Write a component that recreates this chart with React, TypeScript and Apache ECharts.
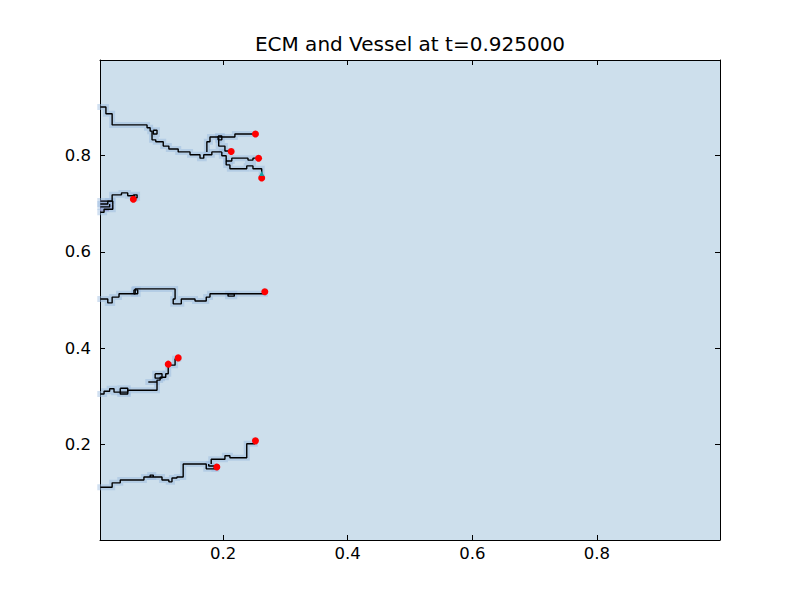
import React, { useEffect, useRef } from "react";
import * as echarts from "echarts";

const TITLE = "ECM and Vessel at t=0.925000";
const TICKS = [0.2, 0.4, 0.6, 0.8];
const AXIS_MIN = 0.0025;
const AXIS_MAX = 0.9975;

// Vessel paths (staircase polylines, data units)
const vesselTopTrunk = [
  [0.003, 0.9], [0.012, 0.9], [0.012, 0.886], [0.022, 0.886], [0.022, 0.863], [0.078, 0.863],
  [0.078, 0.857], [0.083, 0.857], [0.083, 0.85], [0.086, 0.85], [0.086, 0.832], [0.092, 0.832],
  [0.092, 0.828], [0.104, 0.828], [0.104, 0.819], [0.113, 0.819], [0.113, 0.813], [0.128, 0.813],
  [0.128, 0.807], [0.147, 0.807], [0.147, 0.801], [0.163, 0.801], [0.163, 0.794], [0.169, 0.794],
  [0.169, 0.801], [0.182, 0.801], [0.182, 0.807], [0.198, 0.807],
];
const vesselTopBox1 = [[0.088, 0.852], [0.094, 0.852], [0.094, 0.844], [0.088, 0.844], [0.088, 0.852]];
const vesselTopBranch1 = [
  [0.174, 0.807], [0.174, 0.828], [0.179, 0.828], [0.179, 0.838], [0.219, 0.838], [0.219, 0.844], [0.251, 0.844],
];
const vesselTopBox2 = [[0.192, 0.84], [0.198, 0.84], [0.198, 0.832], [0.192, 0.832], [0.192, 0.84]];
const vesselTopBranch2 = [
  [0.193, 0.836], [0.193, 0.819], [0.203, 0.819], [0.203, 0.809], [0.213, 0.809],
];
const vesselTopBranch3 = [
  [0.198, 0.807], [0.198, 0.799], [0.205, 0.799], [0.205, 0.788], [0.214, 0.788], [0.214, 0.794],
  [0.24, 0.794], [0.24, 0.79], [0.248, 0.79], [0.248, 0.794], [0.256, 0.794],
];
const vesselTopBranch4 = [
  [0.205, 0.788], [0.205, 0.78], [0.211, 0.78], [0.211, 0.772], [0.238, 0.772], [0.238, 0.778],
  [0.248, 0.778], [0.248, 0.772], [0.262, 0.772], [0.262, 0.755],
];
const vesselSmall = [
  [0.003, 0.699], [0.015, 0.699], [0.015, 0.705], [0.022, 0.705], [0.022, 0.718], [0.037, 0.718],
  [0.037, 0.722], [0.047, 0.722], [0.047, 0.716], [0.058, 0.716], [0.058, 0.71],
];
const vesselSmallBox = [[0.056, 0.718], [0.062, 0.718], [0.062, 0.712], [0.056, 0.712], [0.056, 0.718]];
const vesselSmallLoop = [
  [0.003, 0.705], [0.023, 0.705], [0.023, 0.688], [0.009, 0.688], [0.009, 0.682], [0.003, 0.682],
];
const vesselSmallInner = [[0.003, 0.693], [0.018, 0.693], [0.018, 0.699]];
const vesselMid = [
  [0.003, 0.502], [0.015, 0.502], [0.015, 0.494], [0.022, 0.494], [0.022, 0.506], [0.033, 0.506],
  [0.033, 0.513], [0.059, 0.513], [0.059, 0.523], [0.123, 0.523], [0.123, 0.502], [0.12, 0.502],
  [0.12, 0.492], [0.133, 0.492], [0.133, 0.502], [0.155, 0.502], [0.155, 0.498], [0.173, 0.498],
  [0.173, 0.506], [0.179, 0.506], [0.179, 0.513], [0.267, 0.513], [0.267, 0.517],
];
const vesselMidBox1 = [[0.057, 0.521], [0.063, 0.521], [0.063, 0.513], [0.057, 0.513], [0.057, 0.521]];
const vesselMidBox2 = [[0.208, 0.513], [0.218, 0.513], [0.218, 0.508], [0.208, 0.508], [0.208, 0.513]];
const vesselLow = [
  [0.003, 0.305], [0.009, 0.305], [0.009, 0.311], [0.018, 0.311], [0.018, 0.316], [0.025, 0.316],
  [0.025, 0.309], [0.047, 0.309], [0.047, 0.313], [0.094, 0.313], [0.094, 0.334], [0.099, 0.334],
  [0.099, 0.34], [0.108, 0.34], [0.108, 0.347], [0.112, 0.347], [0.112, 0.365], [0.123, 0.365],
  [0.123, 0.378], [0.128, 0.378],
];
const vesselLowBox1 = [[0.035, 0.317], [0.047, 0.317], [0.047, 0.305], [0.035, 0.305], [0.035, 0.317]];
const vesselLowStub = [[0.08, 0.33], [0.094, 0.33]];
const vesselLowBox2 = [[0.091, 0.347], [0.102, 0.347], [0.102, 0.338], [0.091, 0.338], [0.091, 0.347]];
const vesselBottom = [
  [0.003, 0.112], [0.022, 0.112], [0.022, 0.121], [0.035, 0.121], [0.035, 0.127], [0.073, 0.127],
  [0.073, 0.133], [0.102, 0.133], [0.102, 0.127], [0.113, 0.127], [0.113, 0.123], [0.118, 0.123],
  [0.118, 0.131], [0.126, 0.131], [0.126, 0.133], [0.136, 0.133], [0.136, 0.16], [0.173, 0.16],
  [0.173, 0.15], [0.189, 0.15], [0.189, 0.154],
];
const vesselBottomBranch = [
  [0.181, 0.16], [0.181, 0.17], [0.203, 0.17], [0.203, 0.177], [0.211, 0.177], [0.211, 0.173],
  [0.238, 0.173], [0.238, 0.202], [0.251, 0.202], [0.251, 0.208],
];
const vesselBottomBump = [[0.083, 0.133], [0.083, 0.137], [0.088, 0.137], [0.088, 0.133]];
const vesselBottomBox = [[0.177, 0.16], [0.177, 0.156], [0.186, 0.156], [0.186, 0.15]];

const vesselPaths = [
  vesselTopTrunk, vesselTopBox1, vesselTopBranch1, vesselTopBox2, vesselTopBranch2, vesselTopBranch3,
  vesselTopBranch4, vesselSmall, vesselSmallBox, vesselSmallLoop, vesselSmallInner, vesselMid,
  vesselMidBox1, vesselMidBox2, vesselLow, vesselLowBox1, vesselLowStub, vesselLowBox2, vesselBottom,
  vesselBottomBranch, vesselBottomBump, vesselBottomBox,
];

// Tip cells (red dots)
const tipPoints = [
  [0.252, 0.844], [0.213, 0.808], [0.257, 0.794], [0.262, 0.753], [0.056, 0.709],
  [0.267, 0.517], [0.112, 0.367], [0.128, 0.38], [0.252, 0.208], [0.19, 0.154],
];
const cyanPoints = [[0.262, 0.762]];

// High-ECM cells (purple patches) [x0, y0, x1, y1]
const purpleCells = [
  [0.0025, 0.684, 0.017, 0.699],
  [0.0025, 0.699, 0.022, 0.707],
  [0.017, 0.688, 0.024, 0.697],
];

export default function App() {
  const ref = useRef<HTMLDivElement>(null);
  useEffect(() => {
    document.body.style.margin = "0";
    const chart = echarts.init(ref.current!, null, { renderer: "svg" });
    const font = "DejaVu Sans";
    const mkAxis = (pos: string, labels: boolean) => ({
      type: "value",
      position: pos,
      min: AXIS_MIN,
      max: AXIS_MAX,
      splitLine: { show: false },
      axisLine: { show: true, onZero: false, lineStyle: { color: "#000", width: 1 } },
      axisTick: { show: true, inside: true, length: 5, customValues: TICKS, lineStyle: { color: "#000" } },
      axisLabel: labels
        ? {
            show: true,
            customValues: TICKS,
            formatter: (v: number) => v.toFixed(1),
            color: "#000",
            fontSize: 16.5,
            fontFamily: font,
            margin: pos === "bottom" ? 5 : 9,
          }
        : { show: false },
    });
    const halo = vesselPaths.map((p) => ({
      type: "line",
      data: p,
      showSymbol: false,
      symbol: "none",
      silent: true,
      z: 2,
      lineStyle: { color: "rgba(150,185,222,0.45)", width: 6, cap: "square", join: "miter" },
    }));
    const lines = vesselPaths.map((p) => ({
      type: "line",
      data: p,
      showSymbol: false,
      symbol: "none",
      z: 4,
      lineStyle: { color: "#000", width: 1.4 },
    }));
    chart.setOption({
      animation: false,
      title: {
        text: TITLE,
        left: 410,
        top: 34,
        textAlign: "center",
        padding: 0,
        textStyle: { fontFamily: font, fontSize: 20, fontWeight: "normal", color: "#000" },
      },
      grid: {
        left: 100,
        top: 60,
        right: 80,
        bottom: 60,
        show: true,
        backgroundColor: "#cddfec",
        borderWidth: 0,
      },
      xAxis: [mkAxis("bottom", true), mkAxis("top", false)],
      yAxis: [mkAxis("left", true), mkAxis("right", false)],
      series: [
        {
          type: "custom",
          data: purpleCells,
          z: 1,
          clip: true,
          renderItem: (_params: any, api: any) => {
            const p0 = api.coord([api.value(0), api.value(3)]);
            const p1 = api.coord([api.value(2), api.value(1)]);
            return {
              type: "rect",
              shape: { x: p0[0], y: p0[1], width: p1[0] - p0[0], height: p1[1] - p0[1] },
              style: { fill: "rgba(125,105,175,0.75)" },
            };
          },
        },
        ...halo,
        ...lines,
        {
          type: "scatter",
          data: tipPoints,
          symbolSize: 7,
          z: 5,
          itemStyle: { color: "#ff0000", opacity: 1 },
        },
        {
          type: "scatter",
          data: cyanPoints,
          symbol: "triangle",
          symbolSize: 5,
          z: 6,
          itemStyle: { color: "#1aa0a0", opacity: 1 },
        },
      ],
    });
    return () => chart.dispose();
  }, []);
  return <div ref={ref} style={{ width: 800, height: 600 }} />;
}
